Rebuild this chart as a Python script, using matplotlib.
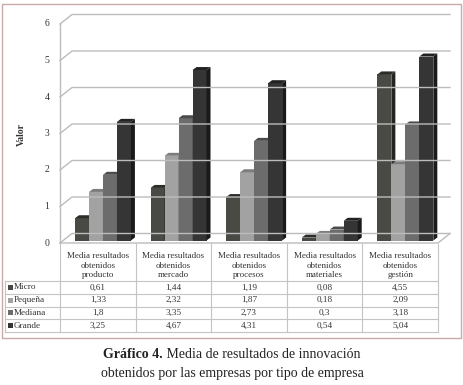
import matplotlib
matplotlib.use("Agg")
import matplotlib.pyplot as plt
import matplotlib.transforms as mtransforms
from matplotlib.patches import Polygon, Rectangle

categories = ["Media resultados\nobtenidos\nproducto",
              "Media resultados\nobtenidos\nmercado",
              "Media resultados\nobtenidos\nprocesos",
              "Media resultados\nobtenidos\nmateriales",
              "Media resultados\nobtenidos\ngestión"]
series_names = ["Micro", "Pequeña", "Mediana", "Grande"]
micro = [0.61, 1.44, 1.19, 0.08, 4.55]
pequena = [1.33, 2.32, 1.87, 0.18, 2.09]
mediana = [1.8, 3.35, 2.73, 0.3, 3.18]
grande = [3.25, 4.67, 4.31, 0.54, 5.04]
yticks = [0, 1, 2, 3, 4, 5, 6]

series = [micro, pequena, mediana, grande]
front_colors = ["#4a4a45", "#a2a2a2", "#6c6c6c", "#343534"]
top_colors = ["#2c2c29", "#7c7c7c", "#4c4c4c", "#222222"]
side_colors = ["#242421", "#686868", "#424242", "#1a1a1a"]

plt.rcParams['font.family'] = ['Liberation Serif', 'DejaVu Serif']

W, H = 464, 385
fig = plt.figure(figsize=(W / 100, H / 100), dpi=100)
fig.patch.set_facecolor("white")

def fx(px):
    return px / W

def fy(py):
    return 1 - py / H

# front plane of the 3d chart
ax = fig.add_axes([fx(60), fy(243), fx(438) - fx(60), fy(24) - fy(243)])
ax.set_xlim(0, len(categories))
ax.set_ylim(0, 6)
ax.axis("off")
fig.canvas.draw()

ident = mtransforms.IdentityTransform()
depth = (12, 9.5)      # back wall offset in pixels
bar_depth = (4, 3)     # bar box depth in pixels
grid_col = "#bcbcbc"

def to_px(x, y):
    return ax.transData.transform((x, y))

# walls and gridlines
n = len(categories)
for v in yticks:
    x0, y0 = to_px(0, v)
    x1, y1 = to_px(n, v)
    fig.add_artist(plt.Line2D([x0, x0 + depth[0], x1 + depth[0]],
                              [y0, y0 + depth[1], y1 + depth[1]],
                              transform=ident, color=grid_col, lw=1.0))
    ax.text(-0.14, v, str(v), ha="right", va="center", fontsize=7, color="#333333")
# left front edge and floor
x0, y0 = to_px(0, 0)
x0t, y0t = to_px(0, 6)
x1, y1 = to_px(n, 0)
fig.add_artist(plt.Line2D([x0, x0t], [y0, y0t], transform=ident, color=grid_col, lw=1.0))
fig.add_artist(plt.Line2D([x0, x1, x1 + depth[0]], [y0, y1, y1 + depth[1]],
                          transform=ident, color=grid_col, lw=1.0))

fig.text(fx(21), fy(135), "Valor", rotation=90, ha="center", va="center",
         fontsize=7, fontweight="bold", color="#333333")

# bars with fake depth
w = 0.185
start = 0.198
for i in range(n):
    for j, vals in enumerate(series):
        xl = i + start + j * w
        bx0, by0 = to_px(xl, 0)
        bx1, by1 = to_px(xl + w, vals[i])
        by0 += 2.5
        by1 += 2.5
        dx, dy = bar_depth
        fig.add_artist(Rectangle((bx0, by0), bx1 - bx0, by1 - by0, transform=ident,
                                 facecolor=front_colors[j], edgecolor="none"))
        fig.add_artist(Polygon([(bx1, by0), (bx1 + dx, by0 + dy), (bx1 + dx, by1 + dy), (bx1, by1)],
                               transform=ident, facecolor=side_colors[j], edgecolor="none"))
        fig.add_artist(Polygon([(bx0, by1), (bx1, by1), (bx1 + dx, by1 + dy), (bx0 + dx, by1 + dy)],
                               transform=ident, facecolor=top_colors[j], edgecolor="none"))

# data table
line_col = "#c4c4c4"
blend = mtransforms.blended_transform_factory(ax.transData, fig.transFigure)
header_bottom = 281
row_h = 12.75
table_bottom = header_bottom + row_h * len(series)
right_edge = ax.transAxes.transform((1, 0))[0] / W
for k in range(n + 1):
    fig.add_artist(plt.Line2D([k, k], [fy(244), fy(table_bottom)], transform=blend,
                              color=line_col, lw=0.8))
fig.add_artist(plt.Line2D([fx(5), fx(5)], [fy(header_bottom), fy(table_bottom)],
                          color=line_col, lw=0.8))
for r in range(len(series) + 1):
    yy = fy(header_bottom + r * row_h)
    fig.add_artist(plt.Line2D([fx(5), right_edge], [yy, yy], color=line_col, lw=0.8))

for k, cat in enumerate(categories):
    fig.add_artist(plt.Text(k + 0.5, fy(265.5), cat, transform=blend, ha="center",
                            va="center", fontsize=6.5, color="#333333", linespacing=1.2))

for j, (name, vals) in enumerate(zip(series_names, series)):
    yc = fy(header_bottom + (j + 0.5) * row_h)
    fig.add_artist(Rectangle((fx(7.5), yc - 2.6 / H), 5.2 / W, 5.2 / H,
                             transform=fig.transFigure, facecolor=front_colors[j], edgecolor="none"))
    fig.text(fx(14), yc, name, ha="left", va="center", fontsize=6.6, color="#333333")
    for k, v in enumerate(vals):
        fig.add_artist(plt.Text(k + 0.5, yc, f"{v:g}".replace(".", ","), transform=blend,
                                ha="center", va="center", fontsize=6.6, color="#333333"))

# border of the chart area
fig.add_artist(Rectangle((fx(2), fy(338)), fx(461) - fx(2), fy(4) - fy(338),
                         transform=fig.transFigure, facecolor="none",
                         edgecolor="#c9a9a9", lw=1.0))

# caption
renderer = fig.canvas.get_renderer()
tb = fig.text(0, fy(355), "Gráfico 4.", fontsize=10, fontweight="bold",
              va="center", color="#222222")
tr = fig.text(0, fy(355), " Media de resultados de innovación", fontsize=10,
              va="center", color="#222222")
wb = tb.get_window_extent(renderer).width
wr = tr.get_window_extent(renderer).width
left = (W - wb - wr) / 2
tb.set_x(left / W)
tr.set_x((left + wb) / W)
fig.text(0.5, fy(374), "obtenidos por las empresas por tipo de empresa",
         fontsize=10, ha="center", va="center", color="#222222")

fig.savefig("out.png", dpi=100, facecolor="white")
